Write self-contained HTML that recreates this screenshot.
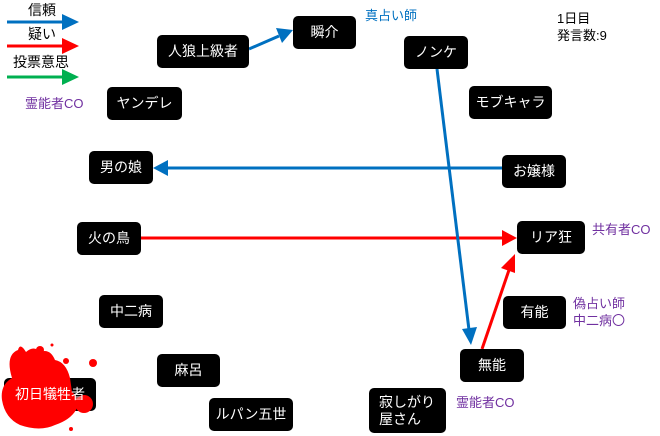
<!DOCTYPE html>
<html><head><meta charset="utf-8"><style>
body{margin:0;width:660px;height:436px;background:#fff;position:relative;overflow:hidden;font-family:"Liberation Sans","Noto Sans CJK JP",sans-serif}
.n{position:absolute;background:#000;color:#fff;border-radius:5px;display:flex;align-items:center;justify-content:center;font-size:14px;line-height:17px;text-align:left}
.t{position:absolute;font-size:13px;white-space:nowrap;line-height:17px}
.p{color:#7030a0}
</style></head><body>
<svg width="660" height="436" style="position:absolute;left:0;top:0">
<g stroke-width="3">
<line x1="7" y1="22" x2="64" y2="22" stroke="#0070c0"/><path d="M62,14L79,22L62,30z" fill="#0070c0"/>
<line x1="7" y1="46" x2="64" y2="46" stroke="#ff0000"/><path d="M62,38L79,46L62,54z" fill="#ff0000"/>
<line x1="7" y1="77" x2="64" y2="77" stroke="#00b050"/><path d="M62,69L79,77L62,85z" fill="#00b050"/>
<line x1="249" y1="49" x2="279" y2="36" stroke="#0070c0"/><path d="M293,30L276,28L282,43z" fill="#0070c0"/>
<line x1="502" y1="168" x2="168" y2="168" stroke="#0070c0"/><path d="M153,168L168,160L168,176z" fill="#0070c0"/>
<line x1="141" y1="238" x2="502" y2="238" stroke="#ff0000"/><path d="M517,238L502,230L502,246z" fill="#ff0000"/>
<line x1="437" y1="69" x2="469" y2="330" stroke="#0070c0"/><path d="M471,345L462,329L477,327z" fill="#0070c0"/>
<line x1="482" y1="349" x2="509" y2="270" stroke="#ff0000"/><path d="M515,254L501,268L515,273z" fill="#ff0000"/>
</g>
</svg>
<div class="n" style="left:4px;top:378px;width:92px;height:33px"></div>
<svg width="660" height="436" style="position:absolute;left:0;top:0">
<g fill="#ff0000">
<path d="M12,378 Q5,355 18,350 Q20,342 26,352 Q34,345 40,352 Q50,348 55,360 Q66,362 70,378 L72,392 Q80,398 76,410 Q70,420 55,425 Q40,432 20,425 Q5,418 2,400 Q0,385 12,378z"/>
<circle cx="40" cy="350" r="4"/><circle cx="52" cy="345" r="1.5"/><circle cx="66" cy="361" r="3"/><circle cx="93" cy="363" r="4"/><circle cx="84" cy="404" r="9"/><circle cx="71" cy="429" r="2"/>
</g>
</svg>
<div class="t" style="left:28px;top:2px;font-size:14px">信頼</div>
<div class="t" style="left:28px;top:26px;font-size:14px">疑い</div>
<div class="t" style="left:13px;top:54px;font-size:14px">投票意思</div>
<div class="n" style="left:157px;top:35px;width:92px;height:33px">人狼上級者</div>
<div class="n" style="left:293px;top:16px;width:63px;height:33px">瞬介</div>
<div class="n" style="left:107px;top:87px;width:75px;height:33px">ヤンデレ</div>
<div class="n" style="left:89px;top:151px;width:64px;height:33px">男の娘</div>
<div class="n" style="left:77px;top:222px;width:64px;height:33px">火の鳥</div>
<div class="n" style="left:99px;top:295px;width:64px;height:33px">中二病</div>
<div class="n" style="left:157px;top:354px;width:63px;height:33px">麻呂</div>
<div class="n" style="left:209px;top:398px;width:84px;height:33px">ルパン五世</div>
<div class="n" style="left:4px;top:378px;width:92px;height:33px;background:transparent">初日犠牲者</div>
<div class="n" style="left:404px;top:36px;width:64px;height:33px">ノンケ</div>
<div class="n" style="left:469px;top:86px;width:83px;height:33px">モブキャラ</div>
<div class="n" style="left:502px;top:155px;width:64px;height:33px">お嬢様</div>
<div class="n" style="left:517px;top:221px;width:68px;height:33px">リア狂</div>
<div class="n" style="left:503px;top:296px;width:63px;height:33px">有能</div>
<div class="n" style="left:460px;top:349px;width:64px;height:33px">無能</div>
<div class="n" style="left:369px;top:388px;width:77px;height:45px;justify-content:flex-start;padding-left:10px;box-sizing:border-box">寂しがり<br>屋さん</div>
<div class="t" style="left:365px;top:7px;color:#0070c0">真占い師</div>
<div class="t" style="left:557px;top:10px">1日目<br>発言数:9</div>
<div class="t p" style="left:25px;top:95px">霊能者CO</div>
<div class="t p" style="left:592px;top:221px">共有者CO</div>
<div class="t p" style="left:573px;top:295px">偽占い師<br>中二病〇</div>
<div class="t p" style="left:456px;top:394px">霊能者CO</div>
</body></html>
